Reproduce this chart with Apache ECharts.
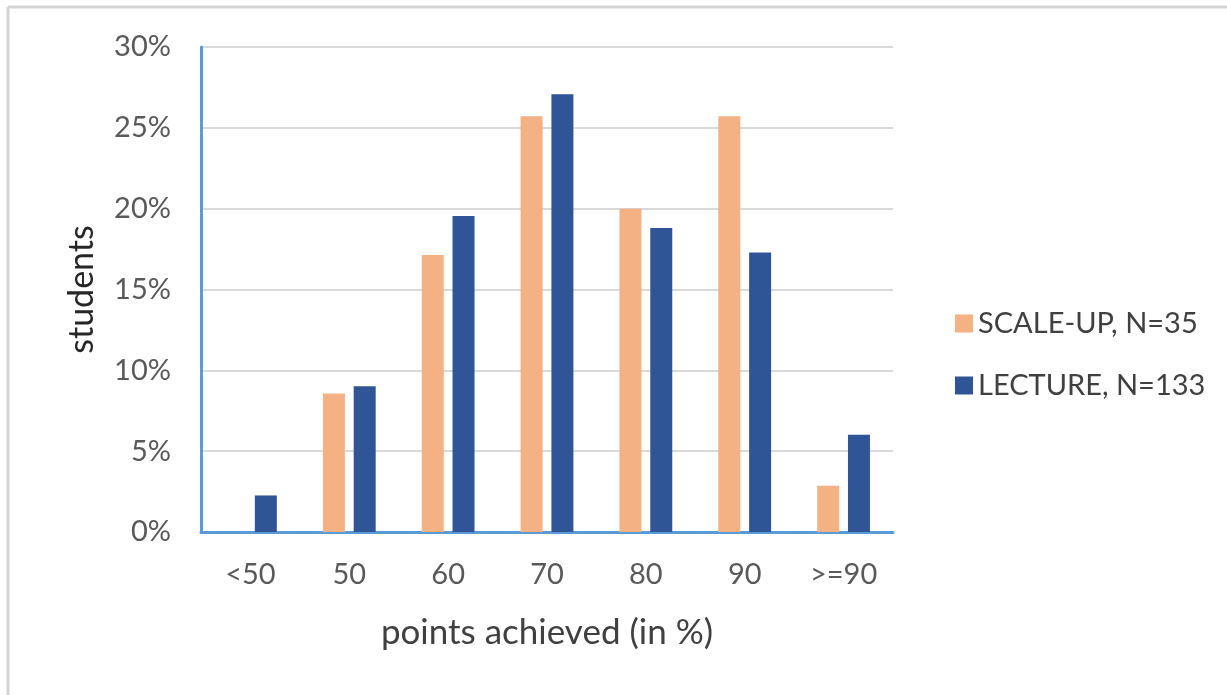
<!DOCTYPE html>
<html>
<head>
<meta charset="utf-8">
<title>Points achieved</title>
<script src="https://cdn.jsdelivr.net/npm/echarts@6/dist/echarts.min.js"></script>
<style>
  html, body { margin: 0; padding: 0; background: #ffffff; }
  #chart { width: 1227px; height: 695px; }
</style>
</head>
<body>
<div id="chart"></div>
<script>
// Score bands (points achieved, in %)
const categories = ['<50', '50', '60', '70', '80', '90', '>=90'];
// Share of students per band, in %
const scaleUpValues = [0, 8.57, 17.14, 25.71, 20.0, 25.71, 2.86];   // SCALE-UP, N=35
const lectureValues = [2.26, 9.02, 19.55, 27.07, 18.80, 17.29, 6.02]; // LECTURE, N=133
const seriesNames = ['SCALE-UP, N=35', 'LECTURE, N=133'];

const FONT = 'Lato, "Open Sans", "DejaVu Sans", sans-serif';
const ORANGE = '#F4B183';
const BLUE = '#2F5597';
const AXIS_BLUE = '#5B9BD5';

const chart = echarts.init(document.getElementById('chart'), null, { renderer: 'canvas' });

chart.setOption({
  animation: false,
  backgroundColor: '#ffffff',
  textStyle: { fontFamily: FONT },
  graphic: [
    // light frame along the top and left edges
    { type: 'line', shape: { x1: 8, y1: 7, x2: 1227, y2: 7 }, style: { stroke: '#d4d4d4', lineWidth: 3 } },
    { type: 'line', shape: { x1: 8, y1: 7, x2: 8, y2: 695 }, style: { stroke: '#d4d4d4', lineWidth: 3 } }
  ],
  grid: { left: 201, top: 47, width: 692, height: 485, containLabel: false },
  legend: {
    orient: 'vertical',
    left: 950,
    top: 304,
    itemWidth: 18,
    itemHeight: 18,
    itemGap: 33,
    icon: 'rect',
    textStyle: { fontSize: 29, color: '#404040', fontFamily: FONT, padding: [0, 0, 0, 0] },
    data: seriesNames
  },
  xAxis: {
    type: 'category',
    data: categories,
    name: 'points achieved (in %)',
    nameLocation: 'middle',
    nameGap: 83,
    nameTextStyle: { fontSize: 35, color: '#404040', fontFamily: FONT },
    axisLine: { lineStyle: { color: AXIS_BLUE, width: 3 } },
    axisTick: { show: false },
    axisLabel: { fontSize: 29, color: '#595959', margin: 28, fontFamily: FONT }
  },
  yAxis: {
    type: 'value',
    min: 0,
    max: 30,
    interval: 5,
    name: 'students',
    nameLocation: 'middle',
    nameGap: 102,
    nameRotate: 90,
    nameTextStyle: { fontSize: 34, color: '#262626', fontFamily: FONT },
    axisLine: { show: true, lineStyle: { color: AXIS_BLUE, width: 3 } },
    axisTick: { show: false },
    splitLine: { lineStyle: { color: '#d9d9d9', width: 2 } },
    axisLabel: { fontSize: 29, color: '#595959', margin: 30, fontFamily: FONT, formatter: '{value}%' }
  },
  series: [
    {
      name: seriesNames[0],
      type: 'bar',
      data: scaleUpValues,
      barWidth: 22,
      barGap: '40%',
      itemStyle: { color: ORANGE }
    },
    {
      name: seriesNames[1],
      type: 'bar',
      data: lectureValues,
      barWidth: 22,
      barGap: '40%',
      itemStyle: { color: BLUE }
    }
  ]
});
</script>
</body>
</html>
